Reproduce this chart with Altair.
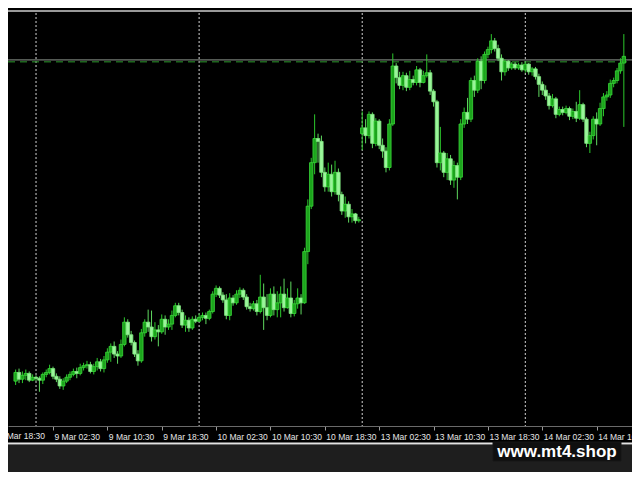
import altair as alt
import pandas as pd

# ---- candle data (M30 bars, price in arbitrary points) ----
opens = [94, 103, 96, 100, 102, 95, 98, 97, 95, 101,
         103, 107, 99, 96, 89, 94, 98, 101, 104, 102,
         108, 110, 111, 104, 109, 114, 107, 116, 124, 130,
         122, 120, 132, 155, 142, 134, 122, 115, 144, 155,
         150, 140, 147, 145, 158, 150, 153, 162, 172, 165,
         152, 157, 149, 158, 156, 160, 162, 159, 166, 184,
         190, 183, 178, 162, 180, 175, 184, 188, 181, 171,
         169, 174, 166, 181, 170, 162, 184, 168, 175, 184,
         170, 180, 164, 174, 180, 175, 228, 275, 320, 345,
         342, 310, 295, 308, 290, 310, 287, 270, 277, 264,
         267, 260, 350, 356, 348, 370, 340, 363, 338, 332,
         315, 360, 420, 408, 400, 410, 398, 406, 403, 416,
         403, 410, 413, 394, 383, 320, 330, 310, 324, 302,
         317, 305, 360, 372, 365, 405, 395, 425, 405, 432,
         437, 446, 438, 428, 414, 425, 418, 422, 418, 421,
         416, 422, 414, 417, 409, 401, 395, 389, 379, 386,
         370, 375, 372, 376, 368, 373, 366, 380, 365, 340,
         348, 365, 360, 376, 388, 390, 402, 405, 415, 423]
closes = [103, 96, 100, 102, 95, 98, 97, 95, 101, 103,
          107, 99, 96, 89, 94, 98, 101, 104, 102, 108,
          110, 111, 104, 109, 114, 107, 116, 124, 130, 122,
          120, 132, 155, 142, 134, 122, 115, 144, 155, 150,
          140, 147, 145, 158, 150, 153, 162, 172, 165, 152,
          157, 149, 158, 156, 160, 162, 159, 166, 184, 190,
          183, 178, 162, 180, 175, 184, 188, 181, 171, 169,
          174, 166, 181, 170, 162, 184, 168, 175, 184, 170,
          180, 164, 174, 180, 175, 228, 275, 320, 345, 342,
          310, 295, 308, 290, 310, 287, 270, 277, 264, 267,
          260, 261, 356, 348, 370, 340, 363, 338, 332, 315,
          360, 420, 408, 400, 410, 398, 406, 403, 416, 403,
          410, 413, 394, 383, 320, 330, 310, 324, 302, 317,
          305, 360, 372, 365, 405, 395, 425, 405, 432, 437,
          446, 438, 428, 414, 425, 418, 422, 418, 421, 416,
          422, 414, 417, 409, 401, 395, 389, 379, 386, 370,
          375, 372, 376, 368, 373, 366, 380, 365, 340, 348,
          365, 360, 376, 388, 390, 402, 405, 415, 423, 430]
highs = [106, 107, 104, 106, 104, 101, 100, 99, 103, 106,
         111, 109, 102, 99, 97, 101, 104, 107, 108, 112,
         113, 115, 114, 112, 118, 117, 120, 128, 133, 135,
         125, 137, 160, 158, 146, 136, 126, 148, 158, 168,
         167, 155, 152, 163, 162, 158, 167, 175, 175, 168,
         162, 160, 161, 162, 164, 165, 165, 168, 187, 193,
         192, 186, 184, 185, 183, 188, 191, 190, 184, 175,
         177, 178, 204, 195, 184, 190, 192, 187, 192, 200,
         190, 197, 178, 190, 184, 232, 282, 325, 370, 350,
         348, 315, 320, 318, 322, 314, 290, 285, 280, 272,
         268, 264, 373, 365, 373, 372, 366, 365, 345, 336,
         365, 433, 423, 414, 414, 413, 415, 410, 420, 418,
         415, 432, 416, 396, 385, 357, 332, 330, 328, 322,
         320, 365, 377, 387, 408, 410, 428, 430, 435, 440,
         453, 449, 442, 432, 427, 426, 424, 424, 423, 424,
         424, 423, 419, 419, 412, 404, 400, 392, 391, 388,
         378, 378, 379, 378, 376, 383, 395, 382, 367, 352,
         368, 372, 382, 392, 394, 406, 408, 418, 428, 453]
lows = [90, 92, 92, 95, 93, 94, 94, 83, 91, 98,
        101, 96, 93, 86, 85, 92, 95, 99, 97, 100,
        105, 107, 102, 101, 105, 104, 103, 113, 114, 118,
        112, 118, 130, 139, 131, 119, 110, 113, 140, 145,
        135, 137, 130, 143, 142, 147, 147, 160, 162, 149,
        145, 145, 147, 154, 155, 157, 153, 157, 164, 181,
        180, 175, 158, 157, 172, 173, 180, 178, 168, 166,
        167, 162, 164, 147, 157, 160, 162, 160, 160, 166,
        169, 160, 161, 169, 163, 174, 215, 272, 308, 320,
        305, 290, 290, 285, 287, 280, 266, 263, 258, 258,
        257, 258, 333, 340, 345, 335, 337, 334, 325, 310,
        312, 358, 402, 396, 395, 394, 395, 400, 400, 398,
        402, 408, 390, 378, 315, 312, 305, 302, 297, 294,
        282, 302, 356, 360, 362, 388, 392, 396, 402, 428,
        433, 435, 425, 405, 410, 415, 416, 416, 416, 414,
        413, 411, 410, 406, 388, 390, 385, 375, 377, 366,
        368, 369, 370, 364, 365, 362, 364, 362, 336, 330,
        344, 338, 358, 368, 384, 387, 398, 402, 412, 357]

tick_idx = [-5, 11, 27, 43, 59, 75, 91, 107, 123, 139, 155, 171]
tick_labels = ["8 Mar 18:30", "9 Mar 02:30", "9 Mar 10:30", "9 Mar 18:30",
               "10 Mar 02:30", "10 Mar 10:30", "10 Mar 18:30", "13 Mar 02:30",
               "13 Mar 10:30", "13 Mar 18:30", "14 Mar 02:30", "14 Mar 10:30"]
day_sep_idx = [6, 54, 102, 150]
level_gray = 426.3
level_green = 424.3

df = pd.DataFrame({"i": list(range(len(opens))), "open": opens, "close": closes,
                   "high": highs, "low": lows})
df["dir"] = ["up" if c >= o else "down" for o, c in zip(opens, closes)]

W, H = 624, 418
xs = alt.Scale(domain=[-0.774, 179.93], nice=False, zero=False)
ys = alt.Scale(domain=[47.6, 480], nice=False, zero=False)

label_expr = "''"
for v, t in zip(tick_idx[1:], tick_labels[1:]):
    label_expr = f"datum.value == {v} ? '{t}' : ({label_expr})"

x_axis = alt.Axis(
    values=tick_idx[1:], labelExpr=label_expr, title=None, grid=False,
    domainColor="#6a6a6a", domainWidth=1, tickColor="#9a9a9a", tickSize=4,
    labelColor="#e6e6e6", labelFont="Liberation Sans", labelFontSize=8.5,
    labelAlign="left", labelBaseline="top", labelPadding=2, labelOffset=1,
    labelOverlap=False, labelBound=False, labelFlush=False)

one = pd.DataFrame({"a": [0]})

strip = alt.Chart(one).mark_rect(color="#1e1e1e").encode(
    x=alt.value(0), x2=alt.value(W), y=alt.value(437), y2=alt.value(464))
white_line = alt.Chart(one).mark_rule(color="#e4e4e4", strokeWidth=2).encode(
    x=alt.value(0), x2=alt.value(W), y=alt.value(435.5))
top_line = alt.Chart(one).mark_rule(color="#9a9a9a", strokeWidth=2).encode(
    x=alt.value(0), x2=alt.value(W), y=alt.value(3))

grid = alt.Chart(pd.DataFrame({"i": day_sep_idx})).mark_rule(
    color="#d2d2d2", strokeWidth=1, strokeDash=[2, 2]).encode(
    x=alt.X("i:Q", scale=xs, axis=x_axis), y=alt.value(5), y2=alt.value(H))

lvl1 = alt.Chart(pd.DataFrame({"p": [level_gray]})).mark_rule(
    color="#8e968e", strokeWidth=1).encode(
    y=alt.Y("p:Q", scale=ys, axis=None), x=alt.value(0), x2=alt.value(W))
lvl2 = alt.Chart(pd.DataFrame({"p": [level_green]})).mark_rule(
    color="#2f9a2f", strokeWidth=1, strokeDash=[7, 5]).encode(
    y=alt.Y("p:Q", scale=ys, axis=None), x=alt.value(0), x2=alt.value(W))

wick = alt.Chart(df).mark_rule(strokeWidth=1).encode(
    x=alt.X("i:Q", scale=xs, axis=x_axis),
    y=alt.Y("low:Q", scale=ys, axis=None),
    y2="high:Q",
    color=alt.Color("dir:N", scale=alt.Scale(domain=["up", "down"],
                    range=["#2cc82c", "#5fd85f"]), legend=None))

body = alt.Chart(df).mark_bar(size=3.4, strokeWidth=0.8).encode(
    x=alt.X("i:Q", scale=xs, axis=x_axis),
    y=alt.Y("open:Q", scale=ys, axis=None),
    y2="close:Q",
    fill=alt.Fill("dir:N", scale=alt.Scale(domain=["up", "down"],
                  range=["#1ca41c", "#9af59a"]), legend=None),
    stroke=alt.Stroke("dir:N", scale=alt.Scale(domain=["up", "down"],
                      range=["#3ad83a", "#80ea80"]), legend=None))

first_label = alt.Chart(pd.DataFrame({"i": tick_idx[:1], "t": tick_labels[:1]})).mark_text(
    align="left", baseline="top", font="Liberation Sans", fontSize=8.5,
    color="#e6e6e6", dx=1).encode(
    x=alt.X("i:Q", scale=xs, axis=x_axis), y=alt.value(H + 6), text="t:N")

wm_box = alt.Chart(one).mark_rect(color="#0f0f0f", stroke="#161616", strokeWidth=1).encode(
    x=alt.value(485), x2=alt.value(613), y=alt.value(434), y2=alt.value(453))
wm_text = alt.Chart(one).mark_text(
    text="www.mt4.shop", font="Liberation Sans", fontSize=17, fontWeight="bold",
    color="#ffffff", align="center", baseline="middle").encode(
    x=alt.value(549), y=alt.value(444))

chart = alt.layer(strip, white_line, top_line, grid, lvl1, lvl2, wick, body,
                  first_label, wm_box, wm_text).properties(
    width=W, height=H,
    autosize=alt.AutoSizeParams(type="none"),
    padding={"left": 0, "top": 0, "right": 0, "bottom": 46},
    background="#000000",
).configure_view(stroke=None)

chart.save("out.html", embed_options={"renderer": "svg", "actions": False})
